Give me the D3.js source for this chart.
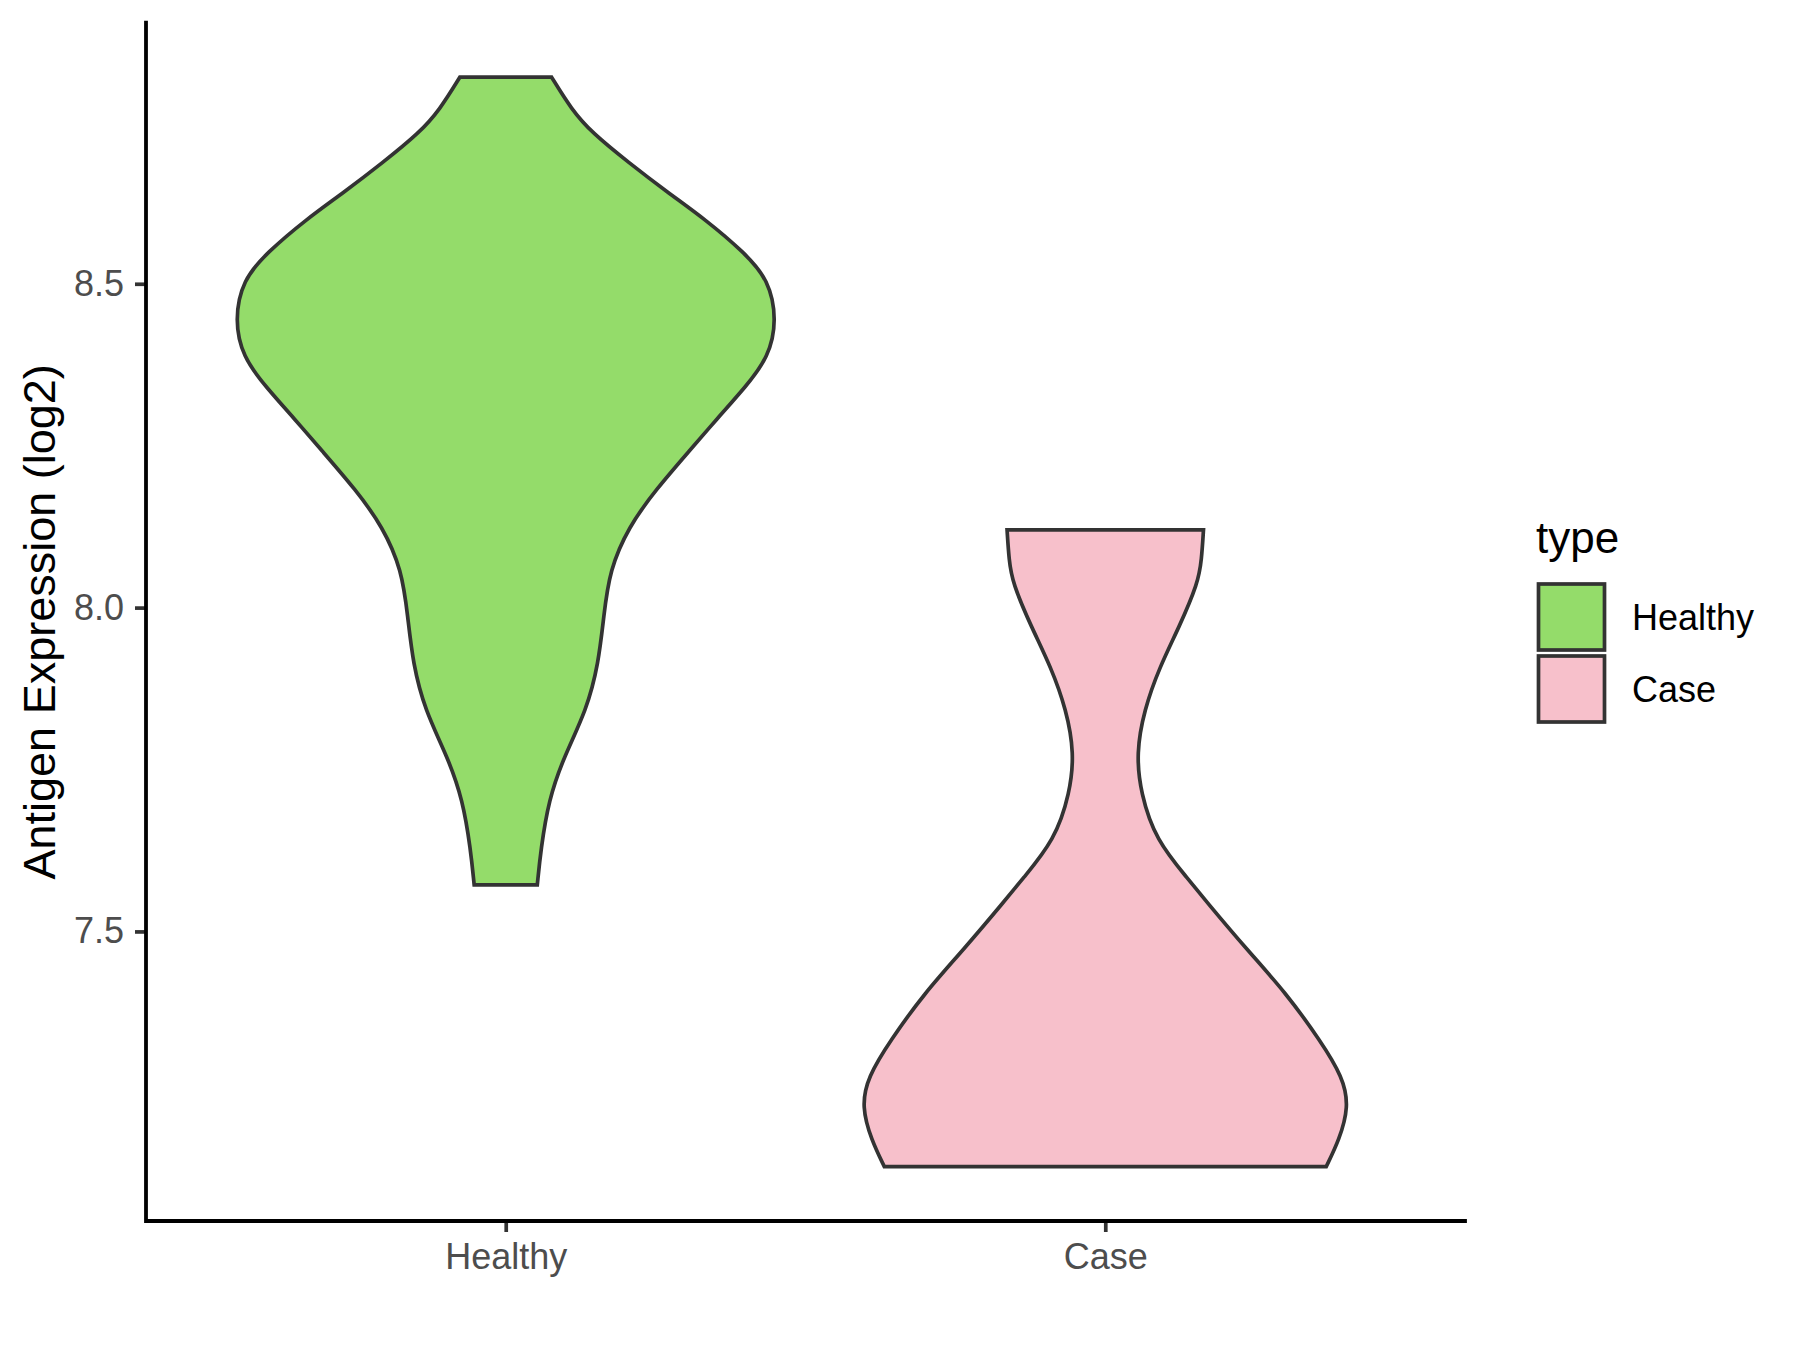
<!DOCTYPE html>
<html>
<head>
<meta charset="utf-8">
<script src="https://cdn.jsdelivr.net/npm/d3@7"></script>
<style>
  html, body { margin: 0; padding: 0; background: #ffffff; }
  svg { display: block; font-family: "Liberation Sans", Arial, sans-serif; }
</style>
</head>
<body>
<svg id="chart" width="1800" height="1350"></svg>
<script>
// ---- Data ----
const categories = ["Healthy", "Case"];
const fillColors = ["#94DC6A", "#F7C0CB"];
const yTicks = [7.5, 8.0, 8.5];

// Violin outlines: value (log2) and relative half-width (1 = widest allowed)
const healthyValues = [8.819, 8.769, 8.733, 8.687, 8.641, 8.599, 8.548, 8.506, 8.444, 8.387, 8.341, 8.290, 8.244, 8.182, 8.125, 8.058, 7.986, 7.914, 7.842, 7.769, 7.703, 7.626, 7.572];
const healthyWidths = [0.170, 0.244, 0.320, 0.456, 0.600, 0.741, 0.885, 0.975, 1.005, 0.975, 0.890, 0.780, 0.685, 0.556, 0.456, 0.385, 0.363, 0.344, 0.300, 0.215, 0.159, 0.130, 0.117];

const caseValues = [8.120, 8.074, 8.038, 7.970, 7.908, 7.842, 7.775, 7.714, 7.641, 7.579, 7.548, 7.471, 7.405, 7.332, 7.275, 7.229, 7.178, 7.137];
const caseWidths = [0.364, 0.357, 0.344, 0.274, 0.201, 0.144, 0.115, 0.131, 0.187, 0.311, 0.371, 0.527, 0.670, 0.796, 0.881, 0.903, 0.867, 0.819];

const violins = [
  { name: categories[0], values: healthyValues, widths: healthyWidths, fill: fillColors[0] },
  { name: categories[1], values: caseValues, widths: caseWidths, fill: fillColors[1] }
];

// ---- Layout ----
const svg = d3.select("#chart");
const plot = { left: 146, right: 1465, top: 22.7, bottom: 1221 };

const allVals = healthyValues.concat(caseValues);
const vmin = d3.min(allVals), vmax = d3.max(allVals);
const pad = 0.05 * (vmax - vmin);

const y = d3.scaleLinear().domain([vmin - pad, vmax + pad]).range([plot.bottom, plot.top]);
const x = d3.scalePoint().domain(categories).range([plot.left, plot.right]).padding(0.6);
const halfMax = 0.45 * x.step();
const w = d3.scaleLinear().domain([0, 1]).range([0, halfMax]);

// ---- Violins ----
violins.forEach(v => {
  const cx = x(v.name);
  const pts = v.values.map((val, i) => ({ v: val, hw: v.widths[i] }));
  const area = d3.area()
    .y(d => y(d.v))
    .x0(d => cx - w(d.hw))
    .x1(d => cx + w(d.hw))
    .curve(d3.curveBasis);
  svg.append("path")
    .attr("d", area(pts))
    .attr("fill", v.fill)
    .attr("stroke", "#333333")
    .attr("stroke-width", 3.7)
    .attr("stroke-linejoin", "miter");
});

// ---- Axes ----
const yAxis = d3.axisLeft(y).tickValues(yTicks).tickFormat(d3.format(".1f")).tickSize(11).tickPadding(11).tickSizeOuter(0);
const gy = svg.append("g").attr("transform", `translate(${plot.left},0)`).call(yAxis);
gy.select(".domain").remove();
gy.selectAll(".tick line").attr("stroke", "#333333").attr("stroke-width", 3.7);
gy.selectAll(".tick text").attr("fill", "#4D4D4D").style("font-size", "36px");

const xAxis = d3.axisBottom(x).tickSize(11).tickPadding(11).tickSizeOuter(0);
const gx = svg.append("g").attr("transform", `translate(0,${plot.bottom})`).call(xAxis);
gx.select(".domain").remove();
gx.selectAll(".tick line").attr("stroke", "#333333").attr("stroke-width", 3.7);
gx.selectAll(".tick text").attr("fill", "#4D4D4D").style("font-size", "36px");

// axis lines
svg.append("path")
  .attr("d", `M${plot.left},${plot.top}V${plot.bottom}H${plot.right}`)
  .attr("fill", "none")
  .attr("stroke", "#000000")
  .attr("stroke-width", 3.8)
  .attr("stroke-linecap", "square");

// y axis title
svg.append("text")
  .attr("transform", `translate(55,${(plot.top + plot.bottom) / 2}) rotate(-90)`)
  .attr("text-anchor", "middle")
  .attr("fill", "#000000")
  .style("font-size", "45px")
  .text("Antigen Expression (log2)");

// ---- Legend ----
const lg = svg.append("g");
lg.append("text")
  .attr("x", 1536)
  .attr("y", 553)
  .attr("fill", "#000000")
  .style("font-size", "44px")
  .text("type");

violins.forEach((v, i) => {
  const top = 584 + i * 72;
  lg.append("rect")
    .attr("x", 1538.5)
    .attr("y", top)
    .attr("width", 66)
    .attr("height", 66)
    .attr("fill", v.fill)
    .attr("stroke", "#333333")
    .attr("stroke-width", 3.7);
  lg.append("text")
    .attr("x", 1632)
    .attr("y", top + 33)
    .attr("dy", "0.36em")
    .attr("fill", "#000000")
    .style("font-size", "36px")
    .text(v.name);
});
</script>
</body>
</html>
